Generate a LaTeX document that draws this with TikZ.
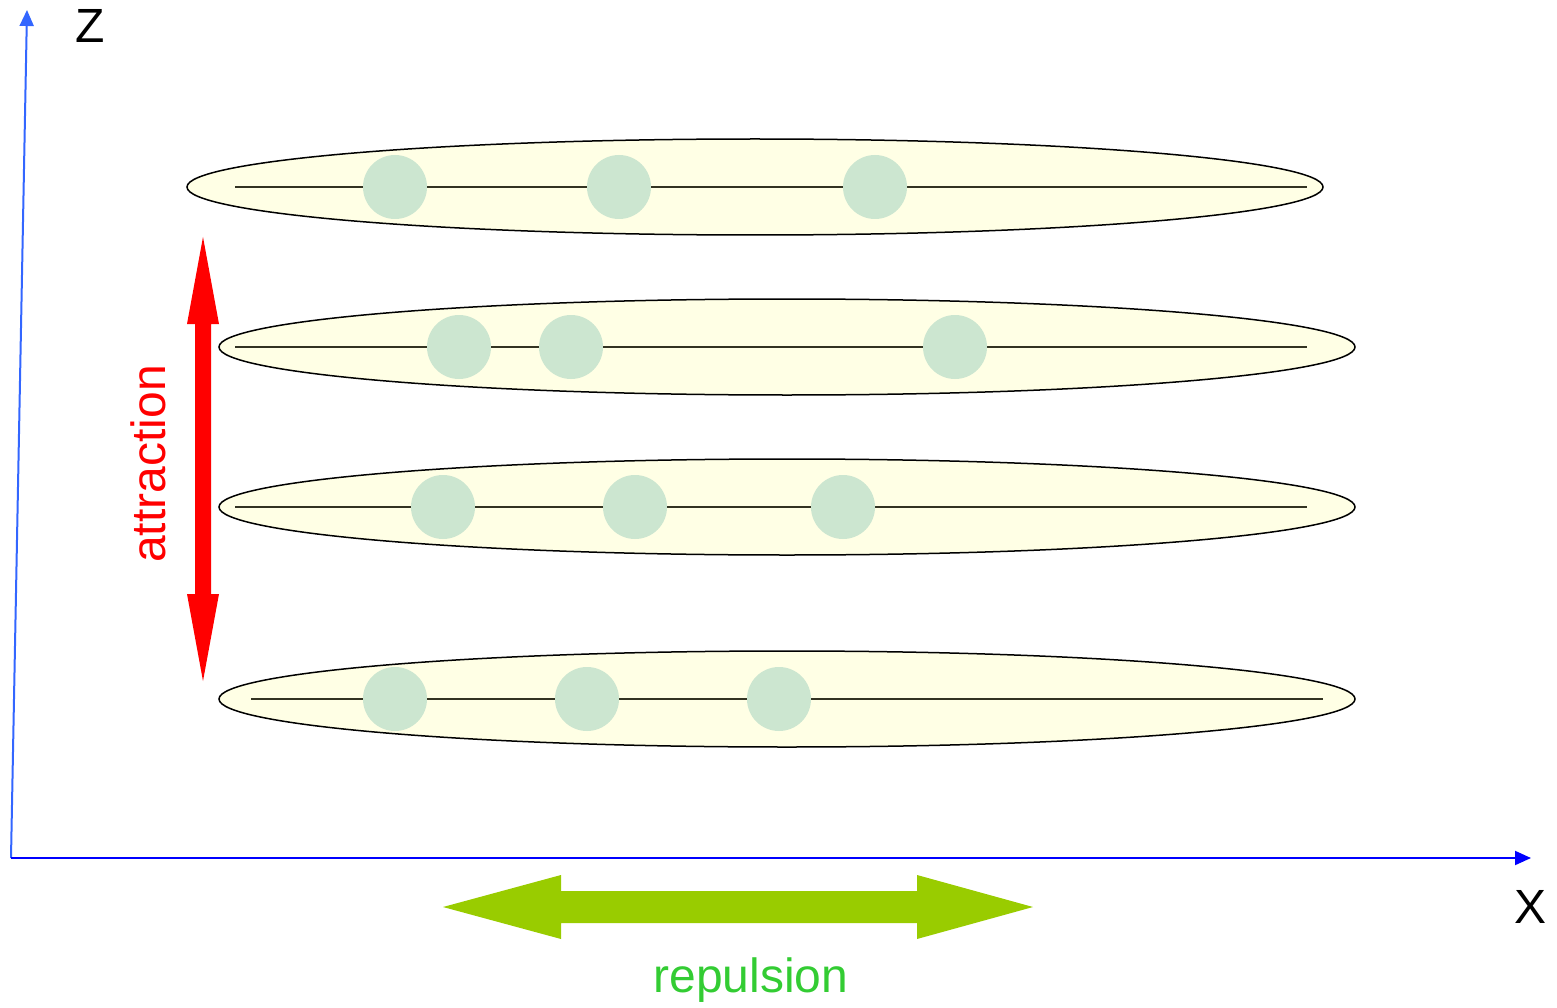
\documentclass[tikz,border=0pt]{standalone}
\usepackage{fontspec}
\setmainfont{Liberation Sans}
\usetikzlibrary{shapes.geometric,arrows.meta}
\definecolor{ellfill}{HTML}{FFFFE5}
\definecolor{ballfill}{HTML}{CCE6D0}
\definecolor{chain}{HTML}{333322}
\definecolor{zblue}{HTML}{3366FF}
\definecolor{xblue}{HTML}{0000FF}
\definecolor{repgreen}{HTML}{99CC00}
\definecolor{reptext}{HTML}{33CC33}
\tikzset{
  layer/.style={ellipse, draw=black, line width=1.5pt, fill=ellfill, minimum width=1136pt, minimum height=96pt, inner sep=0pt},
  ball/.style={circle, fill=ballfill, minimum size=64pt, inner sep=0pt},
  chainline/.style={draw=chain, line width=1.3pt},
  axis/.style={line width=2pt, -{Triangle[length=16pt,width=14pt]}},
  lbl/.style={font=\fontsize{48}{56}\selectfont, inner sep=0pt}
}
\begin{document}
\begin{tikzpicture}[x=1pt,y=-1pt]
\useasboundingbox (0,0) rectangle (1557,1008);
% axes
\coordinate (O) at (11,858);
\coordinate (ztip) at (27,10);
\coordinate (xtip) at (1531,858);
\draw[axis, zblue] (O) -- (ztip);
\draw[axis, xblue] (O) -- (xtip);
\node[lbl] (zl) at (90,26) {Z};
\node[lbl] (xl) at (1530,907) {X};
% layers
\node[layer] (e1) at (755,187) {};
\node[layer] (e2) at (787,347) {};
\node[layer] (e3) at (787,507) {};
\node[layer] (e4) at (787,699) {};
\coordinate (a1) at (235,187); \coordinate (b1) at (1307,187);
\coordinate (a2) at (235,347); \coordinate (b2) at (1307,347);
\coordinate (a3) at (235,507); \coordinate (b3) at (1307,507);
\coordinate (a4) at (251,699); \coordinate (b4) at (1323,699);
\draw[chainline] (a1) -- (b1);
\draw[chainline] (a2) -- (b2);
\draw[chainline] (a3) -- (b3);
\draw[chainline] (a4) -- (b4);
\node[ball] (c11) at (395,187) {};
\node[ball] (c12) at (619,187) {};
\node[ball] (c13) at (875,187) {};
\node[ball] (c21) at (459,347) {};
\node[ball] (c22) at (571,347) {};
\node[ball] (c23) at (955,347) {};
\node[ball] (c31) at (443,507) {};
\node[ball] (c32) at (635,507) {};
\node[ball] (c33) at (843,507) {};
\node[ball] (c41) at (395,699) {};
\node[ball] (c42) at (587,699) {};
\node[ball] (c43) at (779,699) {};
% attraction arrow
\fill[red] (203,237) -- (219,324) -- (211,324) -- (211,594) -- (219,594) -- (203,681)
  -- (187,594) -- (195,594) -- (195,324) -- (187,324) -- cycle;
\node[lbl, red, rotate=90] (att) at (148,464) {attraction};
% repulsion arrow
\fill[repgreen] (443,907) -- (561,875) -- (561,891) -- (917,891) -- (917,875) -- (1033,907)
  -- (917,939) -- (917,923) -- (561,923) -- (561,939) -- cycle;
\node[lbl, reptext] (rep) at (751,980) {repulsion};
\end{tikzpicture}
\end{document}
